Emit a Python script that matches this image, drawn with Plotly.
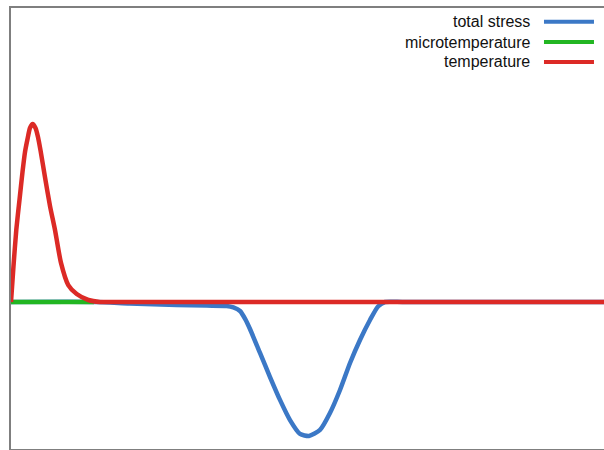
import plotly.graph_objects as go

# Series names and colours
series_names = ["total stress", "microtemperature", "temperature"]
series_colors = ["#3b78c6", "#22b622", "#dc2a26"]

# total stress
stress_x = [0.0, 1.417, 2.0, 2.794, 3.30, 3.637, 3.75, 3.862, 3.95, 4.030, 4.199, 4.368,
            4.536, 4.705, 4.874, 5.025, 5.211, 5.379, 5.548, 5.717, 5.885, 6.054,
            6.189, 6.307, 6.6, 7.5, 8.5, 10.0]
stress_y = [0.0, 0.0, -0.008, -0.017, -0.020, -0.022, -0.030, -0.050, -0.095, -0.150,
            -0.283, -0.417, -0.544, -0.656, -0.733, -0.744, -0.711, -0.617, -0.489,
            -0.339, -0.211, -0.100, -0.025, 0.0, 0.0, 0.0, 0.0, 0.0]

# microtemperature
micro_x = [0.0, 0.7, 1.40]
micro_y = [0.0, 0.0, 0.0]

# temperature
temp_x = [0.0, 0.042, 0.089, 0.143, 0.194, 0.236, 0.275, 0.320, 0.366, 0.413,
          0.455, 0.497, 0.573, 0.658, 0.742, 0.843, 0.966, 1.108, 1.304, 1.5,
          1.84, 3.0, 5.0, 7.0, 10.0]
temp_y = [0.0, 0.200, 0.400, 0.567, 0.722, 0.833, 0.900, 0.967, 0.989, 0.967,
          0.917, 0.844, 0.694, 0.533, 0.400, 0.217, 0.094, 0.044, 0.011, 0.0,
          0.0, 0.0, 0.0, 0.0, 0.0]

fig = go.Figure()
for xs, ys, name, color in [
    (stress_x, stress_y, series_names[0], series_colors[0]),
    (micro_x, micro_y, series_names[1], series_colors[1]),
    (temp_x, temp_y, series_names[2], series_colors[2]),
]:
    fig.add_trace(go.Scatter(
        x=xs, y=ys, mode="lines", name=name,
        line=dict(color=color, width=4.5, shape="spline", smoothing=0.6),
        showlegend=False, hoverinfo="skip",
    ))

# Custom key: right-aligned labels with a line sample to their right
key_rows_y = [0.9689, 0.9229, 0.8776]
for name, color, ky in zip(series_names, series_colors, key_rows_y):
    fig.add_annotation(
        x=0.8786, y=ky, xref="paper", yref="paper",
        text=name, showarrow=False, xanchor="right", yanchor="middle",
        font=dict(family="Liberation Sans, Arial, sans-serif", size=16, color="#111111"),
    )
    fig.add_shape(
        type="line", xref="paper", yref="paper",
        x0=0.8988, x1=0.9831, y0=ky, y1=ky,
        line=dict(color=color, width=4),
    )

fig.update_xaxes(
    range=[0, 10], showgrid=False, zeroline=False, showticklabels=False, ticks="",
    showline=True, mirror=True, linecolor="#7f7f7f", linewidth=2,
)
fig.update_yaxes(
    range=[-0.8167, 1.6333], showgrid=False, zeroline=False, showticklabels=False, ticks="",
    showline=True, mirror=False, linecolor="#7f7f7f", linewidth=2,
)
fig.update_layout(
    width=604, height=450,
    margin=dict(l=11, r=0, t=8, b=1),
    plot_bgcolor="white", paper_bgcolor="white",
)

fig.write_html("out.html")
